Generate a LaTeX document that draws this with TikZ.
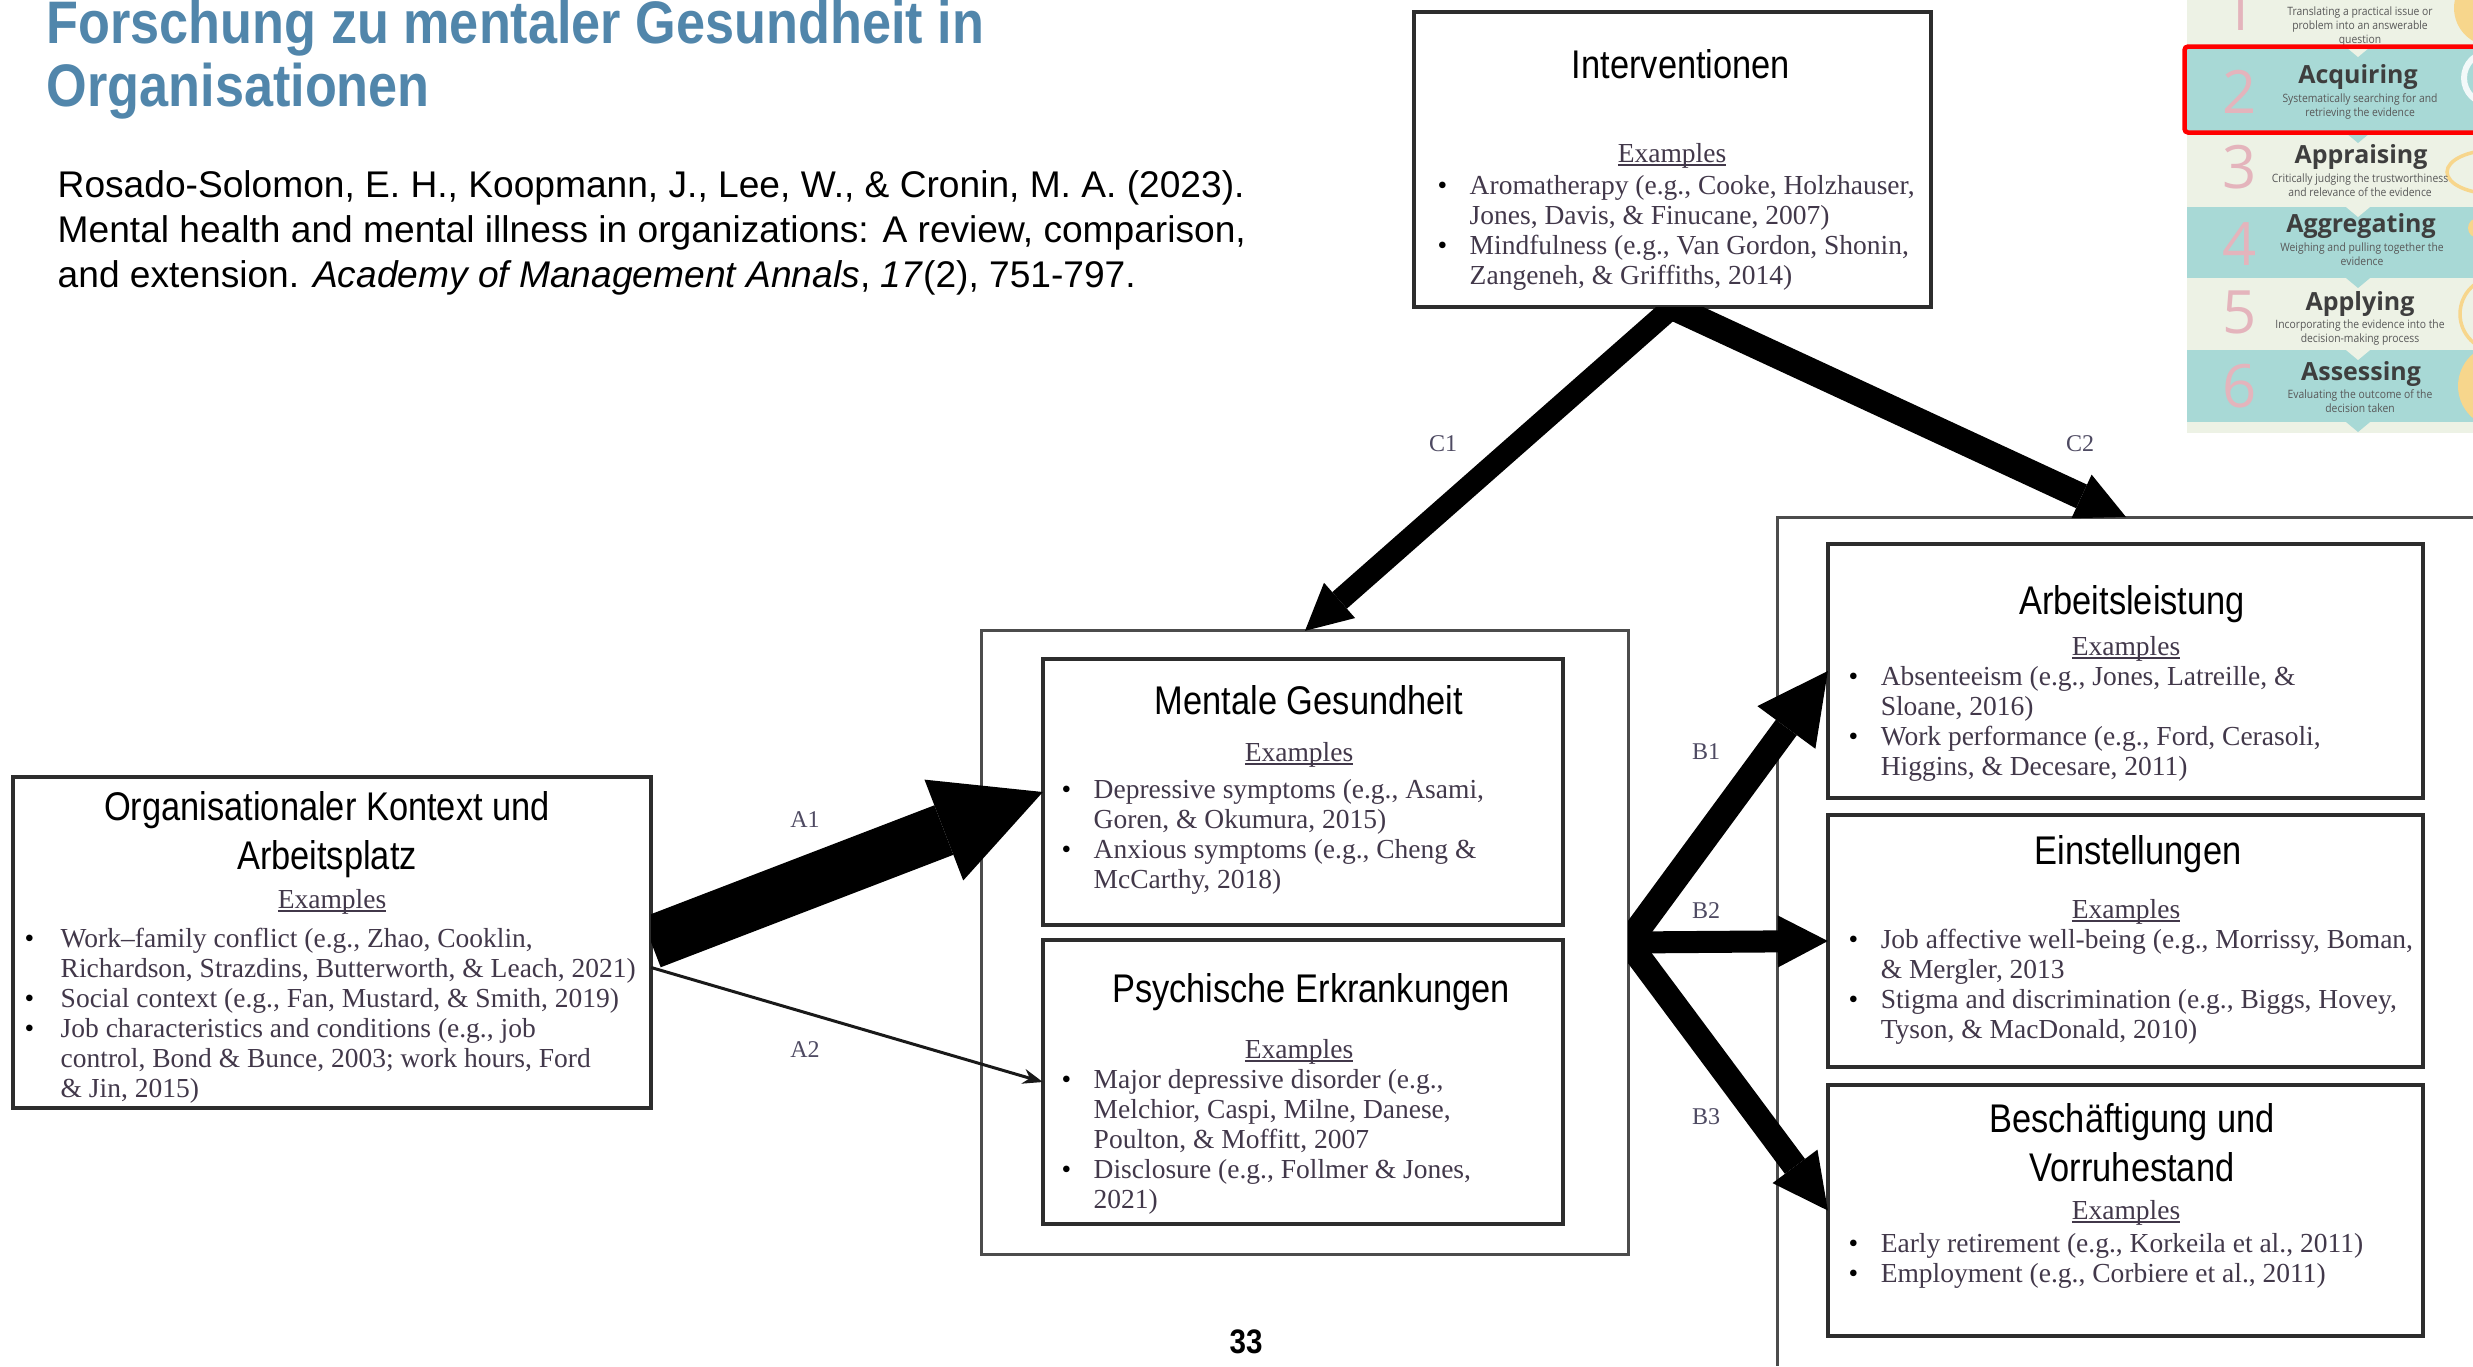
\documentclass[tikz,border=0pt]{standalone}
\usepackage{fontspec}
\setmainfont{Liberation Serif}
\newfontfamily\headfont[FakeStretch=0.86]{Liberation Sans}
\newfontfamily\titlefont[FakeStretch=0.87]{Liberation Sans}
\newfontfamily\citefont{Liberation Sans}
\newfontfamily\infofont{Open Sans}
\newfontfamily\infonarrow[FakeStretch=0.9]{Open Sans}
\usepackage{xcolor}
\usepackage{tikz}
\usetikzlibrary{arrows.meta, positioning, calc}
\definecolor{cTitle}{RGB}{81,134,171}
\definecolor{cBody}{RGB}{66,56,74}
\definecolor{cLbl}{RGB}{78,74,98}
\definecolor{cFrame}{RGB}{45,45,45}
\definecolor{cTeal}{RGB}{168,217,214}
\definecolor{cCream}{RGB}{237,242,229}
\definecolor{cPink}{RGB}{228,180,188}
\definecolor{cInk}{RGB}{62,62,62}
\definecolor{cSub}{RGB}{88,88,88}
\definecolor{cSun}{RGB}{247,214,140}
\newcommand{\bul}{\textcolor{black}{\textbullet}}
\newcommand{\blist}[2][0.32cm]{\begin{tabular}[t]{@{}p{#1}@{}l@{}}#2\end{tabular}}
\newcommand{\exword}[1]{\setbox0\hbox{#1}\rlap{\rule[-1.1pt]{\wd0}{0.5pt}}\box0}
\tikzset{
	framein/.style  ={rectangle, draw=cFrame, line width=1pt, fill=white, inner sep=0pt, outer sep=0pt},
	frameout/.style ={rectangle, draw=cFrame!85, line width=0.85pt, fill=white, inner sep=0pt, outer sep=0pt},
	boxhead/.style  ={anchor=base, inner sep=0pt, font=\headfont\fontsize{11.38pt}{13.94pt}\selectfont},
	exhead/.style   ={anchor=base, inner sep=0pt, text=cBody, font=\fontsize{7.82pt}{8.54pt}\selectfont},
	exlist/.style   ={anchor=base west, inner sep=0pt, text=cBody, font=\fontsize{7.82pt}{8.54pt}\selectfont},
	pathlbl/.style  ={inner sep=0pt, text=cLbl, font=\fontsize{6.83pt}{8pt}\selectfont},
	fatarrow/.style n args={3}{line width=#1, draw=black, -{Triangle[length=#2, width=#3, line width=0pt]}},
	thinarrow/.style={line width=0.85pt, draw=black!90, -{Stealth[length=0.2cm, width=0.15cm]}},
	stepnum/.style  ={anchor=base, inner sep=0pt, text=cPink, font=\infofont\fontsize{17pt}{18pt}\selectfont},
	steptitle/.style={anchor=base, inner sep=0pt, text=cInk, font=\infofont\bfseries\fontsize{7.1pt}{8pt}\selectfont},
	stepsub/.style  ={anchor=base, inner sep=0pt, text=cSub, font=\infonarrow\fontsize{3.27pt}{4.07pt}\selectfont},
}

\begin{document}
\begin{tikzpicture}[x=0.01cm, y=-0.01cm]
	\useasboundingbox (0,0) rectangle (2473,1366);
	\fill[white] (0,0) rectangle (2473,1366);

	\node[anchor=base west, inner sep=0pt, text=cTitle, font=\titlefont\bfseries\fontsize{17.07pt}{17.93pt}\selectfont] (title) at (46,43) {\begin{tabular}[t]{@{}l@{}}Forschung zu mentaler Gesundheit in\\Organisationen\end{tabular}};
	\node[anchor=base west, inner sep=0pt, font=\citefont\fontsize{10.56pt}{12.8pt}\selectfont] (cite) at (57,197) {\begin{tabular}[t]{@{}l@{}}Rosado-Solomon, E. H., Koopmann, J., Lee, W., \& Cronin, M. A. (2023).\\Mental health and mental illness in organizations: A review, comparison,\\and extension. \textit{Academy of Management Annals}, \textit{17}(2), 751-797.\end{tabular}};

	% step infographic
	\begin{scope}
		\clip (2187,0) rectangle (2473,433);
		\foreach \ya/\yb/\bc in {0/47/cCream, 47/133/cTeal, 133/207/cCream, 207/278/cTeal, 278/350/cCream, 350/422/cTeal, 422/433/cCream}
			\fill[\bc] (2187,\ya) rectangle (2473,\yb);
		\foreach \yb/\bc in {47/cCream, 133/cTeal, 207/cCream, 278/cTeal, 350/cCream, 422/cTeal}
			\fill[\bc] (2346,\yb) -- (2370,\yb) -- (2358,\yb+10) -- cycle;
		\fill[cSun] (2492,8) circle (38);
		\draw[white!85!cTeal, line width=1.7pt] (2490,78) circle (26);
		\draw[cSun, line width=1pt] (2495,172) ellipse (48 and 22);
		\fill[cSun] (2478,228) circle (10);
		\draw[cSun, line width=1pt] (2497,314) circle (37);
		\fill[cSun] (2500,386) circle (42);
		\foreach \n/\yb in {1/30, 2/113, 3/188, 4/265, 5/333, 6/407}
			\node[stepnum] (num\n) at (2240,\yb) {\n};
		\node[steptitle] (tAcq) at (2358,83) {Acquiring};
		\node[steptitle] (tApr) at (2361,163) {Appraising};
		\node[steptitle] (tAgg) at (2361,232) {Aggregating};
		\node[steptitle] (tApl) at (2360,310) {Applying};
		\node[steptitle] (tAss) at (2361,380) {Assessing};
		\node[stepsub] (sTra) at (2360,15) {\begin{tabular}[t]{@{}c@{}}Translating a practical issue or\\problem into an answerable\\question\end{tabular}};
		\node[stepsub] (sAcq) at (2360,102) {\begin{tabular}[t]{@{}c@{}}Systematically searching for and\\retrieving the evidence\end{tabular}};
		\node[stepsub] (sApr) at (2360,182) {\begin{tabular}[t]{@{}c@{}}Critically judging the trustworthiness\\and relevance of the evidence\end{tabular}};
		\node[stepsub] (sAgg) at (2362,251) {\begin{tabular}[t]{@{}c@{}}Weighing and pulling together the\\evidence\end{tabular}};
		\node[stepsub] (sApl) at (2360,328) {\begin{tabular}[t]{@{}c@{}}Incorporating the evidence into the\\decision-making process\end{tabular}};
		\node[stepsub] (sAss) at (2360,398) {\begin{tabular}[t]{@{}c@{}}Evaluating the outcome of the\\decision taken\end{tabular}};
	\end{scope}
	\draw[red, line width=1.28pt, rounded corners=1pt] (2473,46.5) -- (2184.5,46.5) -- (2184.5,132.5) -- (2473,132.5);

	% boxes
	\node[frameout, minimum width=6.46cm, minimum height=6.23cm] (midouter) at (1305,942.5) {};
	\draw[cFrame!85, line width=0.85pt] (2473,517) -| (1777,1366);
	\coordinate (rtop) at (2126,517);
	\node[framein, minimum width=5.17cm, minimum height=2.95cm] (interv) at (1672.5,159.5) {};
	\node[framein, minimum width=6.38cm, minimum height=3.31cm] (orgbox) at (332,942.5) {};
	\node[framein, minimum width=5.20cm, minimum height=2.66cm] (mhbox) at (1303,792) {};
	\node[framein, minimum width=5.20cm, minimum height=2.84cm] (mibox) at (1303,1082) {};
	\node[framein, minimum width=5.95cm, minimum height=2.54cm] (arbox) at (2125.5,671) {};
	\node[framein, minimum width=5.95cm, minimum height=2.52cm] (einbox) at (2125.5,941) {};
	\node[framein, minimum width=5.95cm, minimum height=2.51cm] (besbox) at (2125.5,1210.5) {};

	\node[boxhead] (intHead) at (1681,78) {Interventionen};
	\node[boxhead] (orgHead) at (327,820) {\begin{tabular}[t]{@{}c@{}}Organisationaler Kontext und\\Arbeitsplatz\end{tabular}};
	\node[boxhead] (mhHead) at (1309,714) {Mentale Gesundheit};
	\node[boxhead] (miHead) at (1311,1002) {Psychische Erkrankungen};
	\node[boxhead] (arHead) at (2132,614) {Arbeitsleistung};
	\node[boxhead] (einHead) at (2138,864) {Einstellungen};
	\node[boxhead] (besHead) at (2132,1132) {\begin{tabular}[t]{@{}c@{}}Beschäftigung und\\Vorruhestand\end{tabular}};

	\node[exhead] (intEx) at (1672,162) {\exword{Examples}};
	\node[exhead] (orgEx) at (332,908) {\exword{Examples}};
	\node[exhead] (mhEx) at (1299,761) {\exword{Examples}};
	\node[exhead] (miEx) at (1299,1058) {\exword{Examples}};
	\node[exhead] (arEx) at (2126,655) {\exword{Examples}};
	\node[exhead] (einEx) at (2126,918) {\exword{Examples}};
	\node[exhead] (besEx) at (2126,1219) {\exword{Examples}};

	\node[exlist] (intList) at (1437,194) {\blist{\bul & Aromatherapy (e.g., Cooke, Holzhauser,\\ & Jones, Davis, \& Finucane, 2007)\\ \bul & Mindfulness (e.g., Van Gordon, Shonin,\\ & Zangeneh, \& Griffiths, 2014)}};
	\node[exlist] (orgList) at (24,947) {\blist[0.36cm]{\bul & Work–family conflict (e.g., Zhao, Cooklin,\\ & Richardson, Strazdins, Butterworth, \& Leach, 2021)\\ \bul & Social context (e.g., Fan, Mustard, \& Smith, 2019)\\ \bul & Job characteristics and conditions (e.g., job\\ & control, Bond \& Bunce, 2003; work hours, Ford\\ & \& Jin, 2015)}};
	\node[exlist] (mhList) at (1061,798) {\blist{\bul & Depressive symptoms (e.g., Asami,\\ & Goren, \& Okumura, 2015)\\ \bul & Anxious symptoms (e.g., Cheng \&\\ & McCarthy, 2018)}};
	\node[exlist] (miList) at (1061,1088) {\blist{\bul & Major depressive disorder (e.g.,\\ & Melchior, Caspi, Milne, Danese,\\ & Poulton, \& Moffitt, 2007\\ \bul & Disclosure (e.g., Follmer \& Jones,\\ & 2021)}};
	\node[exlist] (arList) at (1848,685) {\blist{\bul & Absenteeism (e.g., Jones, Latreille, \&\\ & Sloane, 2016)\\ \bul & Work performance (e.g., Ford, Cerasoli,\\ & Higgins, \& Decesare, 2011)}};
	\node[exlist] (einList) at (1848,948) {\blist{\bul & Job affective well-being (e.g., Morrissy, Boman,\\ & \& Mergler, 2013\\ \bul & Stigma and discrimination (e.g., Biggs, Hovey,\\ & Tyson, \& MacDonald, 2010)}};
	\node[exlist] (besList) at (1848,1252) {\blist{\bul & Early retirement (e.g., Korkeila et al., 2011)\\ \bul & Employment (e.g., Corbiere et al., 2011)}};

	% paths
	\node[pathlbl] (lblA1) at (805,820) {A1};
	\node[pathlbl] (lblA2) at (805,1050) {A2};
	\node[pathlbl] (lblB1) at (1706,752) {B1};
	\node[pathlbl] (lblB2) at (1706,911) {B2};
	\node[pathlbl] (lblB3) at (1706,1117) {B3};
	\node[pathlbl] (lblC1) at (1443,444) {C1};
	\node[pathlbl] (lblC2) at (2080,444) {C2};
	\begin{scope}
		\clip (651,0) rectangle (2473,1366);
		\draw[fatarrow={0.53cm}{1.06cm}{1.08cm}] (orgbox.east) -- (mhbox.west);
	\end{scope}
	\draw[thinarrow] ($(orgbox.east)+(0,25)$) -- (mibox.west);
	\begin{scope}
		\clip (1628,0) rectangle (2473,1366);
		\draw[fatarrow={0.26cm}{0.70cm}{0.72cm}] (midouter.east) -- (arbox.west);
		\draw[fatarrow={0.22cm}{0.50cm}{0.52cm}] (midouter.east) -- (einbox.west);
		\draw[fatarrow={0.25cm}{0.55cm}{0.56cm}] (midouter.east) -- (besbox.west);
	\end{scope}
	\begin{scope}
		\clip (0,307) rectangle (2473,1366);
		\draw[fatarrow={0.22cm}{0.46cm}{0.47cm}] (interv.south) -- (midouter.north);
		\draw[fatarrow={0.26cm}{0.49cm}{0.48cm}] (interv.south) -- (rtop);
	\end{scope}

	\node[anchor=base, inner sep=0pt, font=\titlefont\bfseries\fontsize{9.67pt}{11pt}\selectfont] (pgnum) at (1246,1353) {33};
\end{tikzpicture}
\end{document}
